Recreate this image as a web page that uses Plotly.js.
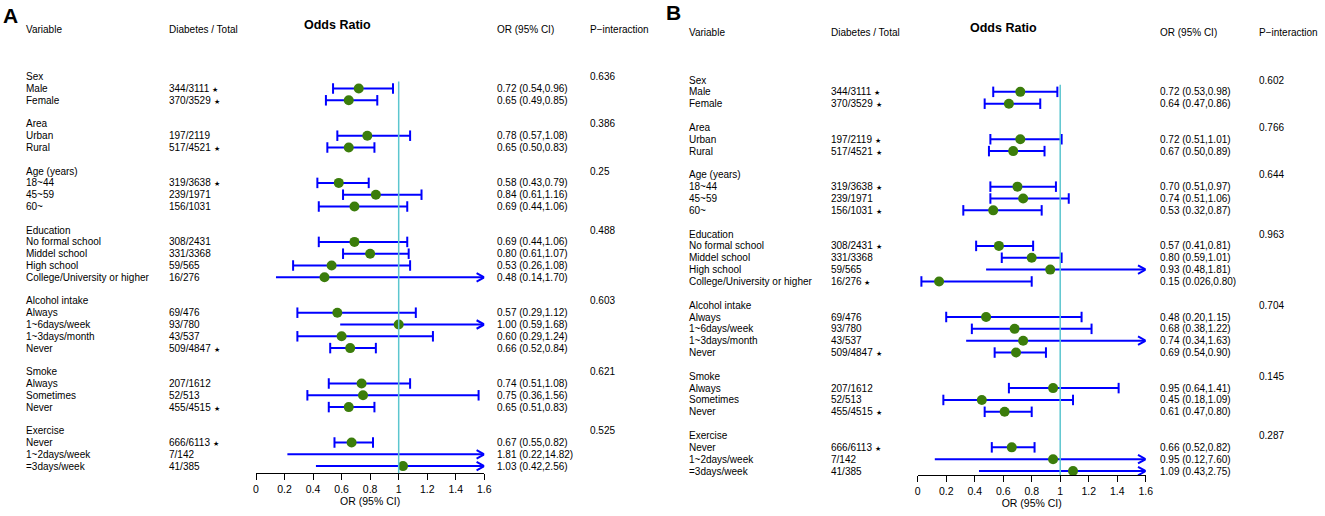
<!DOCTYPE html>
<html>
<head>
<meta charset="utf-8">
<script src="https://cdn.plot.ly/plotly-3.0.1.min.js"></script>
<style>html,body{margin:0;padding:0;background:#fff;}#chart{width:1325px;height:516px;}</style>
</head>
<body>
<div id="chart"></div>
<script>
// ---------------- DATA ----------------
const groups = ["Sex", "Area", "Age (years)", "Education", "Alcohol intake", "Smoke", "Exercise"];
const groupSizes = [2, 2, 3, 4, 4, 3, 3];
const subgroups = ["Male", "Female", "Urban", "Rural", "18~44", "45~59", "60~",
  "No formal school", "Middel school", "High school", "College/University or higher",
  "Always", "1~6days/week", "1~3days/month", "Never",
  "Always", "Sometimes", "Never",
  "Never", "1~2days/week", "=3days/week"];
const counts = ["344/3111", "370/3529", "197/2119", "517/4521", "319/3638", "239/1971", "156/1031",
  "308/2431", "331/3368", "59/565", "16/276",
  "69/476", "93/780", "43/537", "509/4847",
  "207/1612", "52/513", "455/4515",
  "666/6113", "7/142", "41/385"];

// Panel A
const starA = [1, 1, 0, 1, 1, 0, 0, 0, 0, 0, 0, 0, 0, 0, 1, 0, 0, 1, 1, 0, 0];
const orA = [0.72, 0.65, 0.78, 0.65, 0.58, 0.84, 0.69, 0.69, 0.80, 0.53, 0.48, 0.57, 1.00, 0.60, 0.66, 0.74, 0.75, 0.65, 0.67, 1.81, 1.03];
const loA = [0.54, 0.49, 0.57, 0.50, 0.43, 0.61, 0.44, 0.44, 0.61, 0.26, 0.14, 0.29, 0.59, 0.29, 0.52, 0.51, 0.36, 0.51, 0.55, 0.22, 0.42];
const hiA = [0.96, 0.85, 1.08, 0.83, 0.79, 1.16, 1.06, 1.06, 1.07, 1.08, 1.70, 1.12, 1.68, 1.24, 0.84, 1.08, 1.56, 0.83, 0.82, 14.82, 2.56];
const orTextA = ["0.72 (0.54,0.96)", "0.65 (0.49,0.85)", "0.78 (0.57,1.08)", "0.65 (0.50,0.83)", "0.58 (0.43,0.79)", "0.84 (0.61,1.16)", "0.69 (0.44,1.06)",
  "0.69 (0.44,1.06)", "0.80 (0.61,1.07)", "0.53 (0.26,1.08)", "0.48 (0.14,1.70)",
  "0.57 (0.29,1.12)", "1.00 (0.59,1.68)", "0.60 (0.29,1.24)", "0.66 (0.52,0.84)",
  "0.74 (0.51,1.08)", "0.75 (0.36,1.56)", "0.65 (0.51,0.83)",
  "0.67 (0.55,0.82)", "1.81 (0.22,14.82)", "1.03 (0.42,2.56)"];
const pA = ["0.636", "0.386", "0.25", "0.488", "0.603", "0.621", "0.525"];

// Panel B
const starB = [1, 1, 1, 1, 1, 0, 1, 1, 0, 0, 1, 0, 0, 0, 1, 0, 0, 1, 1, 0, 0];
const orB = [0.72, 0.64, 0.72, 0.67, 0.70, 0.74, 0.53, 0.57, 0.80, 0.93, 0.15, 0.48, 0.68, 0.74, 0.69, 0.95, 0.45, 0.61, 0.66, 0.95, 1.09];
const loB = [0.53, 0.47, 0.51, 0.50, 0.51, 0.51, 0.32, 0.41, 0.59, 0.48, 0.026, 0.20, 0.38, 0.34, 0.54, 0.64, 0.18, 0.47, 0.52, 0.12, 0.43];
const hiB = [0.98, 0.86, 1.01, 0.89, 0.97, 1.06, 0.87, 0.81, 1.01, 1.81, 0.80, 1.15, 1.22, 1.63, 0.90, 1.41, 1.09, 0.80, 0.82, 7.60, 2.75];
const orTextB = ["0.72 (0.53,0.98)", "0.64 (0.47,0.86)", "0.72 (0.51,1.01)", "0.67 (0.50,0.89)", "0.70 (0.51,0.97)", "0.74 (0.51,1.06)", "0.53 (0.32,0.87)",
  "0.57 (0.41,0.81)", "0.80 (0.59,1.01)", "0.93 (0.48,1.81)", "0.15 (0.026,0.80)",
  "0.48 (0.20,1.15)", "0.68 (0.38,1.22)", "0.74 (0.34,1.63)", "0.69 (0.54,0.90)",
  "0.95 (0.64,1.41)", "0.45 (0.18,1.09)", "0.61 (0.47,0.80)",
  "0.66 (0.52,0.82)", "0.95 (0.12,7.60)", "1.09 (0.43,2.75)"];
const pB = ["0.602", "0.766", "0.644", "0.963", "0.704", "0.145", "0.287"];

const headers = ["Variable", "Diabetes / Total", "OR (95% CI)", "P\u2212interaction"];
const xTicks = [0, 0.2, 0.4, 0.6, 0.8, 1, 1.2, 1.4, 1.6];
const xMax = 1.6;

// ---------------- LAYOUT HELPERS ----------------
const W = 1325, H = 516;
const FONT = "Liberation Sans, Arial, sans-serif";
const BLUE = "#0000ff", GREEN = "#3b7d0b", CYAN = "#5cc6cf";

// row indices
const groupRow = [], subRow = [];
let r = 0;
groups.forEach((g, gi) => {
  groupRow.push(r); r++;
  for (let k = 0; k < groupSizes[gi]; k++) { subRow.push(r); r++; }
  r++;
});

const panels = [
  {id: "", letter: "A", letterX: 2, letterY: 3, axL: 256, axR: 484.3, y0: 76.7, dy: 11.8, axisY: 473.3,
   colX: [25, 168, 496, 589], oddsX: 337, star: starA, or: orA, lo: loA, hi: hiA, ort: orTextA, p: pA},
  {id: "2", letter: "B", letterX: 665, letterY: 0, axL: 917.7, axR: 1145.7, y0: 80, dy: 11.85, axisY: 475,
   colX: [688, 830, 1158.5, 1258], oddsX: 1003, star: starB, or: orB, lo: loB, hi: hiB, ort: orTextB, p: pB}
];

const traces = [], annotations = [], shapes = [];
const layout = {
  width: W, height: H, margin: {l: 0, r: 0, t: 0, b: 0},
  paper_bgcolor: "#fff", plot_bgcolor: "rgba(0,0,0,0)",
  showlegend: false, font: {family: FONT, size: 10, color: "#000"},
  annotations, shapes
};

panels.forEach(P => {
  const xa = "x" + P.id, ya = "y" + P.id;
  const topPx = 8;
  const rTop = (topPx - P.y0) / P.dy, rBot = (P.axisY - P.y0) / P.dy;
  layout["xaxis" + P.id] = {
    domain: [P.axL / W, P.axR / W], range: [0, xMax], anchor: ya,
    tickvals: xTicks, ticktext: xTicks.map(String), ticks: "outside", ticklen: 6, tickwidth: 1, tickcolor: "#000",
    showline: true, linecolor: "#000", linewidth: 1, showgrid: false, zeroline: false,
    tickfont: {family: FONT, size: 10.5, color: "#000"},
    title: {text: "OR (95% CI)", font: {family: FONT, size: 10.5, color: "#000"}, standoff: 3},
    fixedrange: true
  };
  layout["yaxis" + P.id] = {
    domain: [1 - P.axisY / H, 1 - topPx / H], range: [rBot, rTop], anchor: xa,
    visible: false, showgrid: false, zeroline: false, fixedrange: true
  };

  // reference line at 1
  shapes.push({type: "line", xref: xa, yref: ya, x0: 1, x1: 1, y0: 0.4, y1: rBot,
    line: {color: CYAN, width: 1.5}});

  // CI lines
  const lx = [], ly = [], capX = [], capY = [], arX = [], arY = [], ptX = [], ptY = [];
  const adx = 0.054, ady = 0.36;
  P.or.forEach((v, i) => {
    const row = subRow[i];
    const clipped = P.hi[i] > xMax;
    lx.push(P.lo[i], Math.min(P.hi[i], xMax), null); ly.push(row, row, null);
    if (clipped) {
      arX.push(xMax - adx, xMax, xMax - adx, null); arY.push(row - ady, row, row + ady, null);
    } else {
      capX.push(P.lo[i], P.hi[i]); capY.push(row, row);
    }
    if (v <= xMax) { ptX.push(v); ptY.push(row); }
  });
  traces.push({type: "scatter", mode: "lines", x: lx, y: ly, xaxis: xa, yaxis: ya,
    line: {color: BLUE, width: 2}, hoverinfo: "skip", cliponaxis: false});
  traces.push({type: "scatter", mode: "lines", x: arX, y: arY, xaxis: xa, yaxis: ya,
    line: {color: BLUE, width: 2}, hoverinfo: "skip", cliponaxis: false});
  traces.push({type: "scatter", mode: "markers", x: capX, y: capY, xaxis: xa, yaxis: ya,
    marker: {symbol: "line-ns-open", size: 7.5, color: BLUE, line: {color: BLUE, width: 2}}, hoverinfo: "skip", cliponaxis: false});
  traces.push({type: "scatter", mode: "markers", x: ptX, y: ptY, xaxis: xa, yaxis: ya,
    marker: {symbol: "circle", size: 10, color: GREEN, line: {width: 0}}, hoverinfo: "skip", cliponaxis: false});

  const txt = (x, y, text, extra) => annotations.push(Object.assign({
    xref: "paper", yref: ya, x: x / W, y: y, text: text, showarrow: false,
    xanchor: "left", yanchor: "middle", font: {family: FONT, size: 10, color: "#000"}, borderpad: 0
  }, extra || {}));

  // panel letter
  annotations.push({xref: "paper", yref: "paper", x: P.letterX / W, y: 1 - P.letterY / H, text: "<b>" + P.letter + "</b>",
    showarrow: false, xanchor: "left", yanchor: "top", font: {family: FONT, size: 21, color: "#000"}, borderpad: 0});

  // headers
  const hr = -4;
  headers.forEach((h, k) => txt(P.colX[k], hr, h));
  txt(P.oddsX, hr - 0.42, "<b>Odds Ratio</b>", {xanchor: "center", font: {family: FONT, size: 12.5, color: "#000"}});

  // group rows
  groups.forEach((g, gi) => {
    txt(P.colX[0], groupRow[gi], g);
    txt(P.colX[3], groupRow[gi], P.p[gi]);
  });
  subgroups.forEach((s, i) => {
    const row = subRow[i];
    txt(P.colX[0], row, s);
    txt(P.colX[1], row, counts[i] + (P.star[i] ? " <span style=\"font-size:6.5px\">\u2605</span>" : ""));
    txt(P.colX[2], row, P.ort[i]);
  });
});

Plotly.newPlot("chart", traces, layout, {staticPlot: true});
</script>
</body>
</html>
